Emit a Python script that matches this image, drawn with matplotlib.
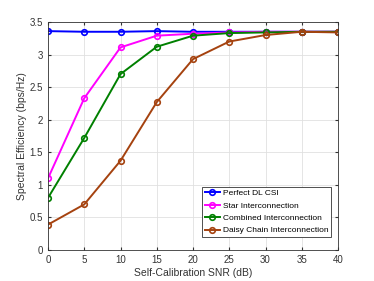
import matplotlib
matplotlib.use("Agg")
import matplotlib.pyplot as plt

snr = [0, 5, 10, 15, 20, 25, 30, 35, 40]
perfect = [3.36, 3.35, 3.35, 3.36, 3.35, 3.35, 3.35, 3.35, 3.35]
star = [1.10, 2.33, 3.11, 3.29, 3.32, 3.34, 3.35, 3.35, 3.35]
combined = [0.80, 1.72, 2.70, 3.12, 3.29, 3.33, 3.34, 3.35, 3.35]
daisy = [0.39, 0.70, 1.37, 2.27, 2.93, 3.20, 3.30, 3.35, 3.34]
labels = ["Perfect DL CSI", "Star Interconnection",
          "Combined Interconnection", "Daisy Chain Interconnection"]
colors = ["#0000ff", "#ff00ff", "#008000", "#a5420f"]

plt.rcParams['font.family'] = ['Liberation Sans', 'DejaVu Sans']
fig = plt.figure(figsize=(3.74, 2.81), dpi=100)
ax = fig.add_axes([48/374, 31/281, 290/374, 228/281])

for ys, lab, c in zip([perfect, star, combined, daisy], labels, colors):
    ax.plot(snr, ys, color=c, lw=1.4, marker='o', ms=4, mfc='none', mew=1.2, label=lab)

ax.set_xlim(0, 40)
ax.set_ylim(0, 3.5)
ax.set_xticks(range(0, 41, 5))
ax.set_yticks([0, 0.5, 1, 1.5, 2, 2.5, 3, 3.5])
ax.set_yticklabels(["0", "0.5", "1", "1.5", "2", "2.5", "3", "3.5"])
ax.grid(True, color='#e0e0e0', lw=0.6)
ax.tick_params(labelsize=7, colors='#333333', length=2, direction='in', top=True, right=True)
for s in ax.spines.values():
    s.set_color('#333333')
    s.set_linewidth(0.6)
ax.set_xlabel("Self-Calibration SNR (dB)", fontsize=7.5, color='#333333', labelpad=2)
ax.set_ylabel("Spectral Efficiency (bps/Hz)", fontsize=7.5, color='#333333', labelpad=2)
leg = ax.legend(loc='lower right', fontsize=6, fancybox=False, framealpha=1,
                edgecolor='#333333', handlelength=1.8, borderpad=0.3, labelspacing=0.55,
                handletextpad=0.4, borderaxespad=0, bbox_to_anchor=(331/374, 44/281),
                bbox_transform=fig.transFigure)
leg.get_frame().set_linewidth(0.6)

fig.savefig("out.png", dpi=100)
